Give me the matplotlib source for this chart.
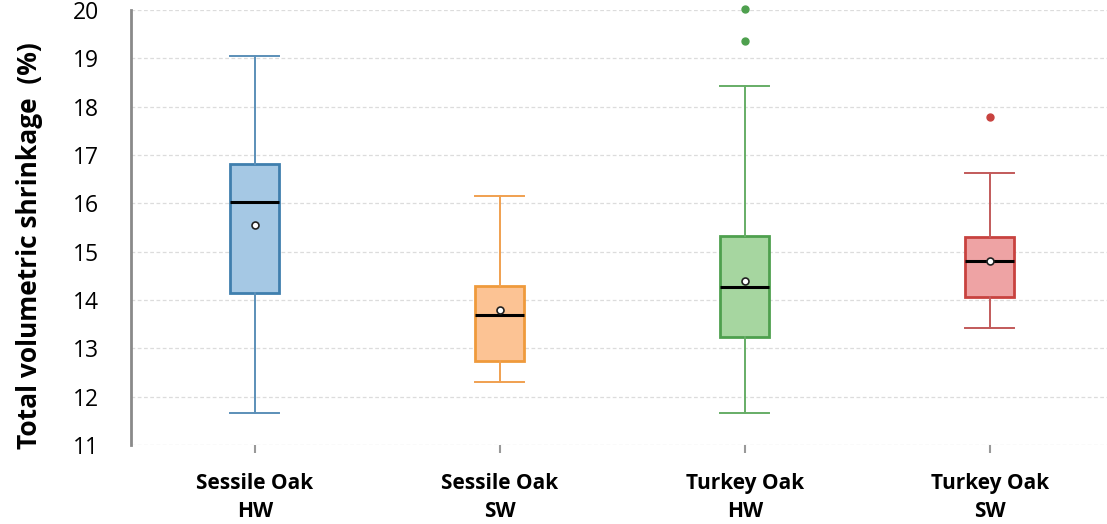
import matplotlib.pyplot as plt
import numpy as np

plt.rcParams['font.family'] = ['Open Sans', 'DejaVu Sans']

# summary statistics
groups = ['Sessile Oak\nHW', 'Sessile Oak\nSW', 'Turkey Oak\nHW', 'Turkey Oak\nSW']
whislo = [11.67, 12.30, 11.67, 13.43]
q1 = [14.15, 12.74, 13.24, 14.07]
med = [16.02, 13.68, 14.26, 14.81]
q3 = [16.82, 14.29, 15.33, 15.31]
whishi = [19.05, 16.16, 18.43, 16.62]
means = [15.56, 13.79, 14.40, 14.81]
outliers = [[], [], [20.03, 19.35], [17.78]]

edge = ['#3f7fae', '#ef9a3c', '#4ea04e', '#c8423f']
fill = ['#a5c8e4', '#fcc394', '#a6d6a0', '#eea3a4']
whisk = ['#5b8fb8', '#f0a050', '#66ad66', '#c25a5a']

stats = []
for i in range(len(groups)):
    stats.append(dict(whislo=whislo[i], q1=q1[i], med=med[i], q3=q3[i],
                      whishi=whishi[i], mean=means[i], fliers=outliers[i]))

fig = plt.figure(figsize=(11.07, 5.24), dpi=100)
ax = fig.add_axes([0.1183, 0.1508, 0.8817, 0.8301])

pos = np.arange(len(groups))
for i in range(len(groups)):
    ax.bxp([stats[i]], positions=[pos[i]], widths=0.2, capwidths=0.2,
           showmeans=True, patch_artist=True,
           boxprops=dict(facecolor=fill[i], edgecolor=edge[i], linewidth=2),
           whiskerprops=dict(color=whisk[i], linewidth=1.4),
           capprops=dict(color=whisk[i], linewidth=1.4),
           medianprops=dict(color='black', linewidth=2.2),
           meanprops=dict(marker='o', markerfacecolor='white', markeredgecolor='#222222',
                          markersize=5, markeredgewidth=1.2),
           flierprops=dict(marker='o', markerfacecolor=edge[i], markeredgecolor=edge[i],
                           markersize=5))

for art in ax.lines:
    art.set_clip_on(False)

ax.set_xlim(-0.506, 3.478)
ax.set_ylim(11, 20)
ax.set_yticks(range(11, 21))
ax.set_xticks(pos)
ax.set_xticklabels(groups, fontsize=15, fontweight='bold', linespacing=1.45)
ax.tick_params(axis='y', length=0, labelsize=16.5, pad=23)
ax.tick_params(axis='x', length=6, width=1.5, color='#999999', pad=14)

ax.yaxis.grid(True, linestyle=(0, (3, 2)), color='#dcdcdc', linewidth=0.9)
ax.set_axisbelow(True)
for s in ['top', 'right', 'bottom']:
    ax.spines[s].set_visible(False)
ax.spines['left'].set_color('#8a8a8a')
ax.spines['left'].set_linewidth(2)

ax.set_ylabel('Total volumetric shrinkage  (%)', fontsize=19, fontweight='bold')
ax.yaxis.set_label_coords(-0.090, 0.459)

fig.savefig('out.png', dpi=100)
